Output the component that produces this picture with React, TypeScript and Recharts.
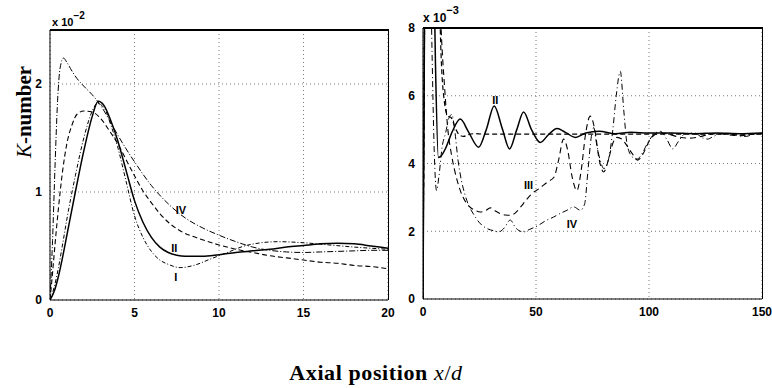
import { CartesianGrid, Line, LineChart, ReferenceDot, XAxis, YAxis } from 'recharts'

// left panel: K-number in units of 1e-2, x/d from 0 to 20
const leftTicksX = [0, 5, 10, 15, 20]
const leftTicksY = [0, 1, 2]

const leftIIx = [0, 0.25, 0.5, 0.75, 1, 1.5, 2, 2.5, 2.85, 3.2, 3.6, 4, 4.5, 5, 5.5, 6, 6.5, 7, 7.5, 8, 9, 10, 11, 12, 13, 14, 15, 16, 17, 18, 19, 20]
const leftIIk = [0, 0.08, 0.22, 0.4, 0.6, 1.0, 1.38, 1.7, 1.84, 1.8, 1.66, 1.48, 1.2, 0.92, 0.72, 0.58, 0.49, 0.44, 0.415, 0.405, 0.405, 0.42, 0.44, 0.455, 0.47, 0.49, 0.505, 0.52, 0.525, 0.52, 0.5, 0.48]

const leftIx = [0, 0.25, 0.5, 0.75, 1, 1.5, 2, 2.5, 2.8, 3.2, 3.6, 4, 4.5, 5, 5.5, 6, 6.5, 7, 7.7, 8.5, 9.5, 10.5, 11.5, 12.5, 13.5, 15, 16.5, 18, 20]
const leftIk = [0, 0.12, 0.3, 0.52, 0.75, 1.15, 1.5, 1.75, 1.82, 1.78, 1.62, 1.42, 1.1, 0.78, 0.58, 0.45, 0.37, 0.33, 0.3, 0.32, 0.38, 0.44, 0.5, 0.53, 0.54, 0.53, 0.51, 0.49, 0.47]

const leftIIIx = [0, 0.15, 0.3, 0.5, 0.75, 1, 1.3, 1.6, 2, 2.5, 3, 3.5, 4, 4.5, 5, 5.5, 6, 6.5, 7, 7.65, 8.8, 10, 11, 12, 13, 14, 15, 16, 17, 18, 19, 20]
const leftIIIk = [0, 0.25, 0.52, 0.85, 1.2, 1.45, 1.62, 1.72, 1.75, 1.74, 1.68, 1.57, 1.45, 1.3, 1.15, 1.01, 0.9, 0.8, 0.72, 0.645, 0.57, 0.51, 0.47, 0.44, 0.41, 0.39, 0.37, 0.35, 0.34, 0.32, 0.31, 0.29]

const leftIVx = [0, 0.15, 0.3, 0.45, 0.6, 0.8, 1, 1.3, 1.6, 2, 2.5, 3, 3.5, 4, 4.5, 5, 6, 7, 8, 9, 10, 11, 12, 13, 14, 15, 16, 17, 18, 19, 20]
const leftIVk = [0, 0.55, 1.25, 1.85, 2.15, 2.24, 2.2, 2.12, 2.05, 1.98, 1.9, 1.8, 1.67, 1.53, 1.4, 1.28, 1.06, 0.89, 0.76, 0.67, 0.6, 0.54, 0.49, 0.46, 0.445, 0.44, 0.445, 0.45, 0.455, 0.46, 0.46]

const leftLabels = ['I', 'II', 'IV']
const leftLabelX = [7.45, 7.35, 7.75]
const leftLabelY = [0.21, 0.48, 0.83]

// right panel: K-number in units of 1e-3, x/d from 0 to 150
const rightTicksX = [0, 50, 100, 150]
const rightTicksY = [0, 2, 4, 6, 8]

const rightIIx = [0, 0.5, 1, 3, 4.5, 5.5, 6.8, 8, 10, 13, 16.5, 20, 24.6, 28, 31.5, 35, 38.3, 41.5, 44.5, 48, 51.9, 55.5, 59.3, 63, 67.4, 72, 78, 85, 92, 100, 110, 120, 130, 140, 150]
const rightIIk = [0, 6, 12, 14, 11, 7, 4.18, 4.22, 4.45, 4.95, 5.31, 4.95, 4.48, 5.0, 5.7, 5.05, 4.43, 5.0, 5.52, 5.0, 4.62, 4.85, 5.03, 4.92, 4.77, 4.9, 4.95, 4.88, 4.92, 4.9, 4.9, 4.88, 4.9, 4.88, 4.9]

const rightIx = [0, 0.6, 1.2, 4, 6.5, 8, 9.5, 11, 12.5, 14, 16, 18, 20, 23, 26, 30, 40, 60, 80, 100, 120, 150]
const rightIk = [0, 7, 13, 14, 11, 7.2, 5.8, 5.4, 5.35, 5.1, 4.85, 4.8, 4.85, 4.88, 4.87, 4.87, 4.87, 4.87, 4.87, 4.87, 4.87, 4.87]

const rightIIIx = [0, 0.6, 1.2, 4, 6.5, 8, 9.5, 11, 12.5, 14, 16.5, 19, 21, 23, 25.4, 27.5, 29.8, 32, 34.2, 36.5, 38.6, 41, 43, 46, 48, 51.2, 55, 58, 60, 62.2, 64, 66, 68.1, 70, 72, 74, 76, 78, 80, 82, 84, 85.8, 88, 90, 92.5, 95, 97.5, 100, 102.5, 105, 108, 112, 118, 122, 126, 130, 135, 140, 145, 150]
const rightIIIk = [0, 7, 13, 14, 11, 8, 6.3, 5.0, 4.3, 3.8, 3.2, 2.85, 2.7, 2.62, 2.57, 2.6, 2.69, 2.6, 2.52, 2.48, 2.47, 2.55, 2.7, 2.95, 3.1, 3.25, 3.45, 3.6, 4.1, 4.72, 4.4, 3.6, 3.2, 3.8, 4.9, 5.4, 5.0, 4.1, 3.75, 4.1, 4.6, 4.77, 4.72, 4.55, 4.3, 4.1, 4.3, 4.65, 4.85, 4.9, 4.88, 4.8, 4.75, 4.78, 4.85, 4.88, 4.85, 4.82, 4.86, 4.88]

const rightIVx = [0, 0.5, 1, 2.5, 3.8, 5, 6, 7, 8.5, 10, 11.5, 12.8, 14, 15.5, 17, 18.5, 20, 22.4, 25, 28.3, 31, 33.5, 36, 38.6, 41, 44.5, 47, 51.2, 54, 57.8, 60, 63.7, 66.7, 69.6, 71.5, 73, 74.5, 75.5, 77, 78.5, 80, 82, 84, 85.5, 87.3, 88.8, 90.3, 92.5, 94.7, 97, 99.1, 102, 105, 108, 110.5, 113, 116, 120, 124, 126, 128, 132, 136, 140, 143, 146, 150]
const rightIVk = [0, 7, 12, 13, 8, 4.3, 3.2, 3.6, 4.5, 4.9, 5.35, 5.45, 5.0, 4.1, 3.5, 3.1, 2.8, 2.5, 2.25, 2.08, 2.02, 1.98, 2.1, 2.33, 2.1, 1.98, 2.05, 2.18, 2.3, 2.42, 2.5, 2.62, 2.72, 2.62, 2.8, 3.8, 4.8, 5.06, 4.5, 4.08, 3.85, 4.1, 5.0, 6.0, 6.72, 5.6, 4.57, 4.2, 4.13, 4.3, 4.57, 4.85, 4.95, 4.7, 4.43, 4.65, 4.88, 4.9, 4.75, 4.72, 4.78, 4.88, 4.87, 4.82, 4.8, 4.86, 4.88]

const rightLabels = ['II', 'III', 'IV']
const rightLabelX = [32, 46.7, 65.9]
const rightLabelY = [5.86, 3.35, 2.2]

const zip = (xs: number[], ks: number[]) => xs.map((x, i) => ({ x, k: ks[i] }))

const tickStyle = { fontFamily: 'Liberation Sans, Arial, sans-serif', fontSize: 12, fontWeight: 'bold', fill: '#000' }
const labelStyle = { fontFamily: 'Liberation Sans, Arial, sans-serif', fontSize: 11, fontWeight: 'bold', fill: '#000' }

const lineProps = { type: 'monotone' as const, dot: false, isAnimationActive: false, stroke: '#000' }

const LeftPanel = () => (
  <LineChart width={400} height={330} margin={{ top: 30, right: 12, bottom: 0, left: 0 }}>
    <CartesianGrid stroke="#555" strokeDasharray="1 3" strokeWidth={0.8} />
    <XAxis type="number" dataKey="x" domain={[0, 20]} ticks={leftTicksX} allowDataOverflow height={30} tickLine={false} tick={tickStyle} tickMargin={2} axisLine={{ stroke: '#000' }} />
    <YAxis type="number" domain={[0, 2.5]} ticks={leftTicksY} allowDataOverflow width={50} tickLine={false} tick={tickStyle} tickMargin={2} axisLine={{ stroke: '#000' }} />
    <Line {...lineProps} data={zip(leftIIIx, leftIIIk)} dataKey="k" strokeWidth={1.1} strokeDasharray="5 3" />
    <Line {...lineProps} data={zip(leftIVx, leftIVk)} dataKey="k" strokeWidth={1} strokeDasharray="6 2 1 2" />
    <Line {...lineProps} data={zip(leftIx, leftIk)} dataKey="k" strokeWidth={1} strokeDasharray="4 2 1 2" />
    <Line {...lineProps} data={zip(leftIIx, leftIIk)} dataKey="k" strokeWidth={1.5} />
    {leftLabels.map((t, i) => (
      <ReferenceDot key={t} x={leftLabelX[i]} y={leftLabelY[i]} r={0} stroke="none" label={{ value: t, position: 'center', style: labelStyle }} />
    ))}
  </LineChart>
)

const RightPanel = () => (
  <LineChart width={380} height={330} margin={{ top: 28, right: 10, bottom: 0, left: 0 }}>
    <CartesianGrid stroke="#555" strokeDasharray="1 3" strokeWidth={0.8} />
    <XAxis type="number" dataKey="x" domain={[0, 150]} ticks={rightTicksX} allowDataOverflow height={31} tickLine={false} tick={tickStyle} tickMargin={2} axisLine={{ stroke: '#000' }} />
    <YAxis type="number" domain={[0, 8]} ticks={rightTicksY} allowDataOverflow width={31} tickLine={false} tick={tickStyle} tickMargin={2} axisLine={{ stroke: '#000' }} />
    <Line {...lineProps} data={zip(rightIx, rightIk)} dataKey="k" strokeWidth={1.2} strokeDasharray="5 3" />
    <Line {...lineProps} data={zip(rightIIIx, rightIIIk)} dataKey="k" strokeWidth={1.1} strokeDasharray="6 4" />
    <Line {...lineProps} data={zip(rightIVx, rightIVk)} dataKey="k" strokeWidth={1} strokeDasharray="6 3 1 3" />
    <Line {...lineProps} data={zip(rightIIx, rightIIk)} dataKey="k" strokeWidth={1.5} />
    {rightLabels.map((t, i) => (
      <ReferenceDot key={t} x={rightLabelX[i]} y={rightLabelY[i]} r={0} stroke="none" label={{ value: t, position: 'center', style: labelStyle }} />
    ))}
  </LineChart>
)

// thin black bars for the top and right edges of each plot box
const bar = (left: number, top: number, width: number, height: number) => ({
  position: 'absolute' as const,
  left,
  top,
  width,
  height,
  background: '#000',
  zIndex: 10,
})

export default function App() {
  return (
    <div style={{ position: 'absolute', left: 0, top: 0, width: 772, height: 388, background: '#fff' }}>
      <div style={{ position: 'absolute', left: 0, top: 0 }}>
        <LeftPanel />
      </div>
      <div style={{ position: 'absolute', left: 392, top: 0 }}>
        <RightPanel />
      </div>
      <div style={bar(50, 29, 339, 1.5)} />
      <div style={bar(387.5, 29, 1.5, 271)} />
      <div style={bar(423, 27, 340, 1.5)} />
      <div style={bar(761.5, 27, 1.5, 272)} />
      <svg width={772} height={388} style={{ position: 'absolute', left: 0, top: 0, zIndex: 5, pointerEvents: 'none' }}>
        <text x={52} y={26} style={{ fontFamily: 'Liberation Sans, Arial, sans-serif', fontSize: 11, fontWeight: 'bold' }}>
          x 10<tspan dy={-7} fontSize={10}>−2</tspan>
        </text>
        <text x={423} y={22} style={{ fontFamily: 'Liberation Sans, Arial, sans-serif', fontSize: 12, fontWeight: 'bold' }}>
          x 10<tspan dy={-8} fontSize={11}>−3</tspan>
        </text>
        <text transform="translate(31,112) rotate(-90)" textAnchor="middle" style={{ fontFamily: 'Liberation Serif, Times New Roman, serif', fontSize: 21, fontWeight: 'bold' }}>
          <tspan fontStyle="italic" fontWeight="normal">K</tspan>-number
        </text>
        <text x={376} y={380} textAnchor="middle" style={{ fontFamily: 'Liberation Serif, Times New Roman, serif', fontSize: 22, fontWeight: 'bold', letterSpacing: 0.6 }}>
          Axial position <tspan fontStyle="italic" fontWeight="normal">x</tspan><tspan fontWeight="normal">/</tspan><tspan fontStyle="italic" fontWeight="normal">d</tspan>
        </text>
      </svg>
    </div>
  )
}
